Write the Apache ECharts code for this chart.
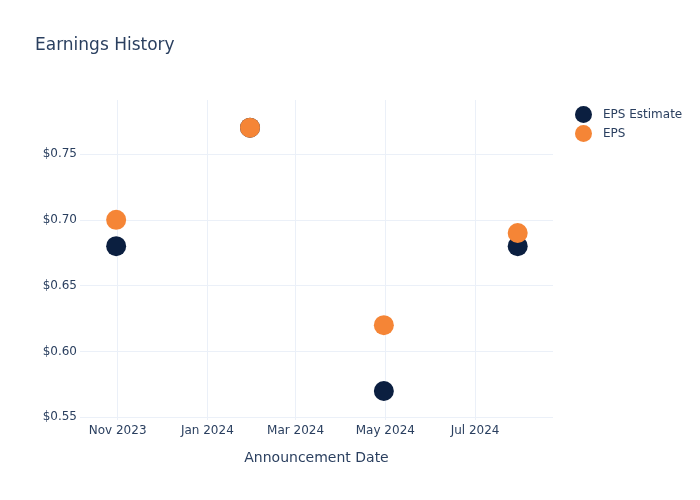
<!DOCTYPE html>
<html>
<head>
<meta charset="utf-8">
<script src="https://cdn.jsdelivr.net/npm/echarts@6/dist/echarts.min.js"></script>
<style>html,body{margin:0;padding:0;background:#fff}#c{width:700px;height:500px}</style>
</head>
<body>
<div id="c"></div>
<script>
const dates = ['2023-10-31', '2024-01-30', '2024-04-30', '2024-07-30'];
const epsEstimate = [0.68, 0.77, 0.57, 0.68];
const eps = [0.70, 0.77, 0.62, 0.69];
const xTicks = ['2023-11-01', '2024-01-01', '2024-03-01', '2024-05-01', '2024-07-01'];
const yTicks = [0.55, 0.60, 0.65, 0.70, 0.75];
const monthNames = ['Jan','Feb','Mar','Apr','May','Jun','Jul','Aug','Sep','Oct','Nov','Dec'];

const ts = s => { const p = s.split('-').map(Number); return Date.UTC(p[0], p[1]-1, p[2]); };
const xTickVals = xTicks.map(ts);
const txt = '#2a3f5f';
const grid = '#ebf0f8';
const font = '"DejaVu Sans", sans-serif';

const chart = echarts.init(document.getElementById('c'), null, {renderer: 'canvas'});
chart.setOption({
  animation: false,
  backgroundColor: '#fff',
  textStyle: {fontFamily: font},
  title: {
    text: 'Earnings History', left: 30, top: 32,
    textStyle: {fontSize: 17, fontWeight: 'normal', color: txt, fontFamily: font}
  },
  legend: {
    orient: 'vertical', left: 570, top: 101, itemGap: 2,
    icon: 'circle', itemWidth: 17, itemHeight: 17,
    textStyle: {fontSize: 12, color: txt, padding: [0,0,0,6], fontFamily: font},
    data: ['EPS Estimate', 'EPS']
  },
  grid: {left: 80, right: 147, top: 100, bottom: 80, containLabel: false},
  xAxis: {
    type: 'value',
    min: ts('2023-10-06') + 10*3600e3,
    max: ts('2024-08-23'),
    name: 'Announcement Date', nameLocation: 'middle', nameGap: 31,
    nameTextStyle: {fontSize: 14, color: txt, fontFamily: font},
    axisLine: {show: false},
    axisTick: {show: false, customValues: xTickVals},
    axisLabel: {
      customValues: xTickVals, fontSize: 12, color: txt, margin: 5, fontFamily: font,
      formatter: v => { const d = new Date(v); return monthNames[d.getUTCMonth()] + ' ' + d.getUTCFullYear(); }
    },
    splitLine: {show: true, lineStyle: {color: grid, width: 1}}
  },
  yAxis: {
    type: 'value', min: 0.548, max: 0.791,
    axisLine: {show: false},
    axisTick: {show: false, customValues: yTicks},
    axisLabel: {customValues: yTicks, fontSize: 12, color: txt, margin: 3, padding: [5,0,0,0], fontFamily: font, formatter: v => '$' + v.toFixed(2)},
    splitLine: {show: true, lineStyle: {color: grid, width: 1}}
  },
  series: [
    {
      name: 'EPS Estimate', type: 'scatter', symbolSize: 20,
      itemStyle: {color: '#0b1f40', opacity: 1},
      data: dates.map((d, i) => [ts(d), epsEstimate[i]])
    },
    {
      name: 'EPS', type: 'scatter', symbolSize: 20,
      itemStyle: {color: '#f58536', opacity: 1},
      data: dates.map((d, i) => [ts(d), eps[i]])
    }
  ]
});
</script>
</body>
</html>
